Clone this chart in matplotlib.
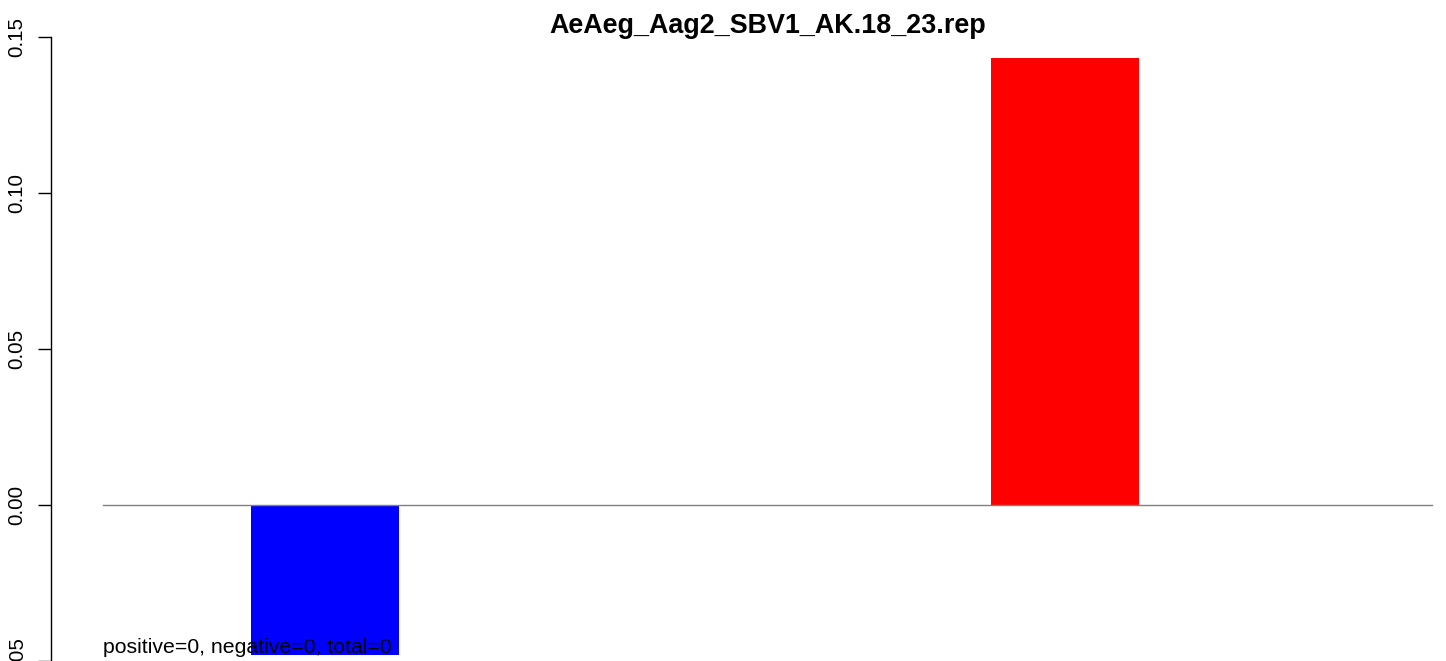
import matplotlib
matplotlib.use("Agg")
import matplotlib.pyplot as plt

plt.rcParams["font.family"] = ["Liberation Sans", "DejaVu Sans"]

title = "AeAeg_Aag2_SBV1_AK.18_23.rep"
bar_pos = [0, 5]
bar_vals = [-0.048, 0.1433]
bar_cols = ["#0000ff", "#ff0000"]
yticks = [-0.05, 0.00, 0.05, 0.10, 0.15]
ytick_labels = ["-0.05", "0.00", "0.05", "0.10", "0.15"]
note = "positive=0, negative=0, total=0"

W, H = 1446, 661
fig = plt.figure(figsize=(W / 100, H / 100), dpi=100)
ax = fig.add_axes([51 / W, 0, (W - 51) / W, (H - 37) / H])

ax.bar(bar_pos, bar_vals, width=1.0, color=bar_cols, linewidth=0)
ax.plot([-1.5, 7.48], [0, 0], color="#808080", lw=1)

ax.set_xlim(-1.851, 7.574)
ax.set_ylim(-0.05, 0.15)
ax.set_yticks(yticks)
ax.set_yticklabels(ytick_labels, rotation=90, va="center", fontsize=14.8)
ax.tick_params(axis="y", length=9.5, width=1, pad=8)
ax.set_xticks([])
for s in ["top", "right", "bottom"]:
    ax.spines[s].set_visible(False)
ax.spines["left"].set_linewidth(1)

ax.text(-1.5, -0.0474, note, fontsize=15.3, ha="left", va="baseline")
fig.text((103 + 1432) / 2 / W, 1 - 33 / H, title, fontsize=19.4,
         fontweight="bold", ha="center", va="baseline")

fig.savefig("out.png", dpi=100)
